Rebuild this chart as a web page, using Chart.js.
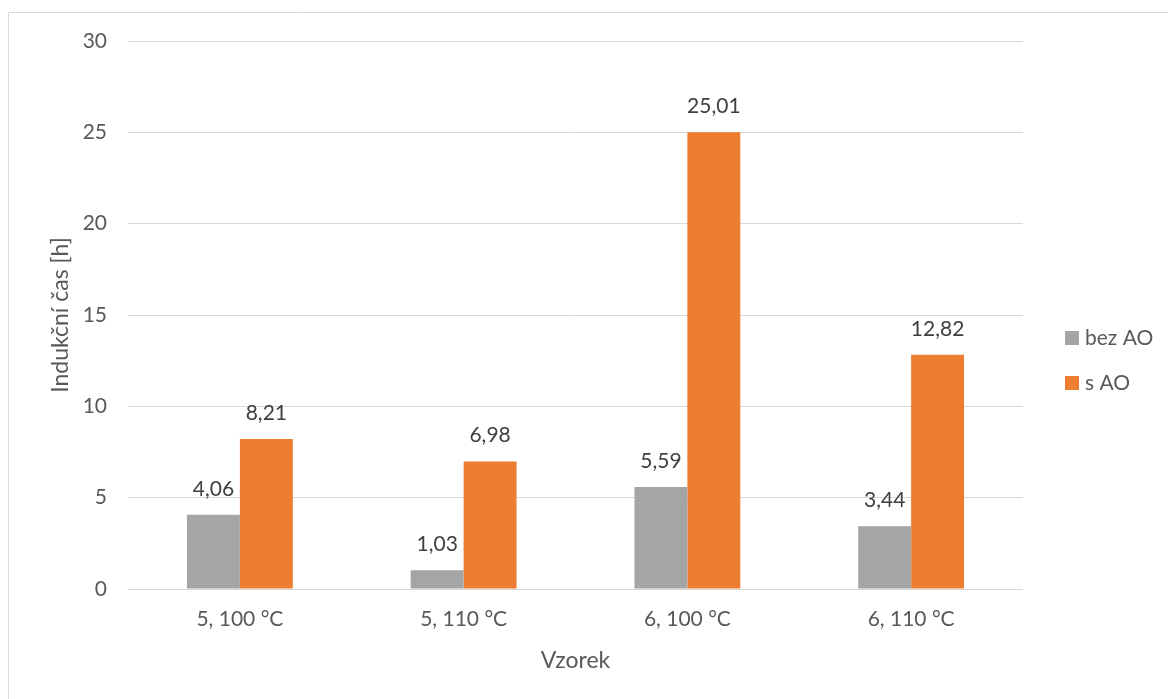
<!DOCTYPE html>
<html>
<head>
<meta charset="utf-8">
<script src="https://cdn.jsdelivr.net/npm/chart.js@4"></script>
<style>
  html, body { margin: 0; padding: 0; background: #ffffff; }
  #wrap { width: 1168px; height: 699px; }
</style>
</head>
<body>
<div id="wrap"><canvas id="chart" width="1168" height="699"></canvas></div>
<script>
// Samples and measured induction times [h]
const categories = ['5, 100 °C', '5, 110 °C', '6, 100 °C', '6, 110 °C'];
const seriesNames = ['bez AO', 's AO'];
const bezAO = [4.06, 1.03, 5.59, 3.44];
const sAO = [8.21, 6.98, 25.01, 12.82];
const yTicks = [0, 5, 10, 15, 20, 25, 30];

const FONT = 'Lato, "Open Sans", sans-serif';
const GREY = '#a5a5a5';
const ORANGE = '#ed7d31';
const TEXT = '#595959';

const fmt = v => v.toFixed(2).replace('.', ',');

// Thin frame along the top and left edges
const framePlugin = {
  id: 'frame',
  beforeDraw(chart) {
    const ctx = chart.ctx;
    ctx.save();
    ctx.fillStyle = '#ffffff';
    ctx.fillRect(0, 0, chart.width, chart.height);
    ctx.strokeStyle = '#d9d9d9';
    ctx.lineWidth = 1;
    ctx.beginPath();
    ctx.moveTo(8.5, chart.height);
    ctx.lineTo(8.5, 12.5);
    ctx.lineTo(chart.width, 12.5);
    ctx.stroke();
    ctx.restore();
  }
};

// Value labels above every bar
const valueLabels = {
  id: 'valueLabels',
  afterDatasetsDraw(chart) {
    const ctx = chart.ctx;
    ctx.save();
    ctx.font = '21px ' + FONT;
    ctx.fillStyle = '#404040';
    ctx.textAlign = 'center';
    ctx.textBaseline = 'middle';
    chart.data.datasets.forEach((ds, i) => {
      chart.getDatasetMeta(i).data.forEach((bar, j) => {
        ctx.fillText(fmt(ds.data[j]), bar.x, bar.y - 26);
      });
    });
    ctx.restore();
  }
};

// Legend to the right of the plot
const sideLegend = {
  id: 'sideLegend',
  afterDraw(chart) {
    const ctx = chart.ctx;
    const area = chart.chartArea;
    const x = area.right + 42;
    const mid = (area.top + area.bottom) / 2;
    const rows = [mid + 23, mid + 68];
    ctx.save();
    ctx.font = '21px ' + FONT;
    ctx.textAlign = 'left';
    ctx.textBaseline = 'middle';
    chart.data.datasets.forEach((ds, i) => {
      const y = rows[i];
      ctx.fillStyle = ds.backgroundColor;
      ctx.fillRect(x, y - 7, 14, 14);
      ctx.fillStyle = TEXT;
      ctx.fillText(ds.label, x + 20, y);
    });
    ctx.restore();
  }
};

new Chart(document.getElementById('chart'), {
  type: 'bar',
  data: {
    labels: categories,
    datasets: [
      { label: seriesNames[0], data: bezAO, backgroundColor: GREY },
      { label: seriesNames[1], data: sAO, backgroundColor: ORANGE }
    ]
  },
  options: {
    responsive: false,
    animation: false,
    devicePixelRatio: 1,
    layout: { padding: { left: 0, right: 145, top: 41, bottom: 0 } },
    datasets: { bar: { categoryPercentage: 0.473, barPercentage: 1.0 } },
    plugins: {
      legend: { display: false },
      tooltip: { enabled: false }
    },
    scales: {
      x: {
        grid: { display: false, drawTicks: false },
        border: { display: false },
        ticks: { color: TEXT, font: { family: FONT, size: 21 }, padding: 18 },
        title: {
          display: true, text: 'Vzorek', color: TEXT,
          font: { family: FONT, size: 23 }, padding: { top: 0, bottom: 25 }
        },
        afterFit(scale) { scale.height = 110; }
      },
      y: {
        min: 0, max: 30,
        afterBuildTicks(scale) { scale.ticks = yTicks.map(v => ({ value: v })); },
        grid: { color: '#d9d9d9', lineWidth: 1, drawTicks: false },
        border: { display: false },
        ticks: { color: TEXT, font: { family: FONT, size: 21 }, padding: 21 },
        title: {
          display: true, text: 'Indukční čas [h]', color: TEXT,
          font: { family: FONT, size: 23 }, padding: { top: 47, bottom: 0 }
        },
        afterFit(scale) { scale.width = 128; }
      }
    }
  },
  plugins: [framePlugin, valueLabels, sideLegend]
});
</script>
</body>
</html>
